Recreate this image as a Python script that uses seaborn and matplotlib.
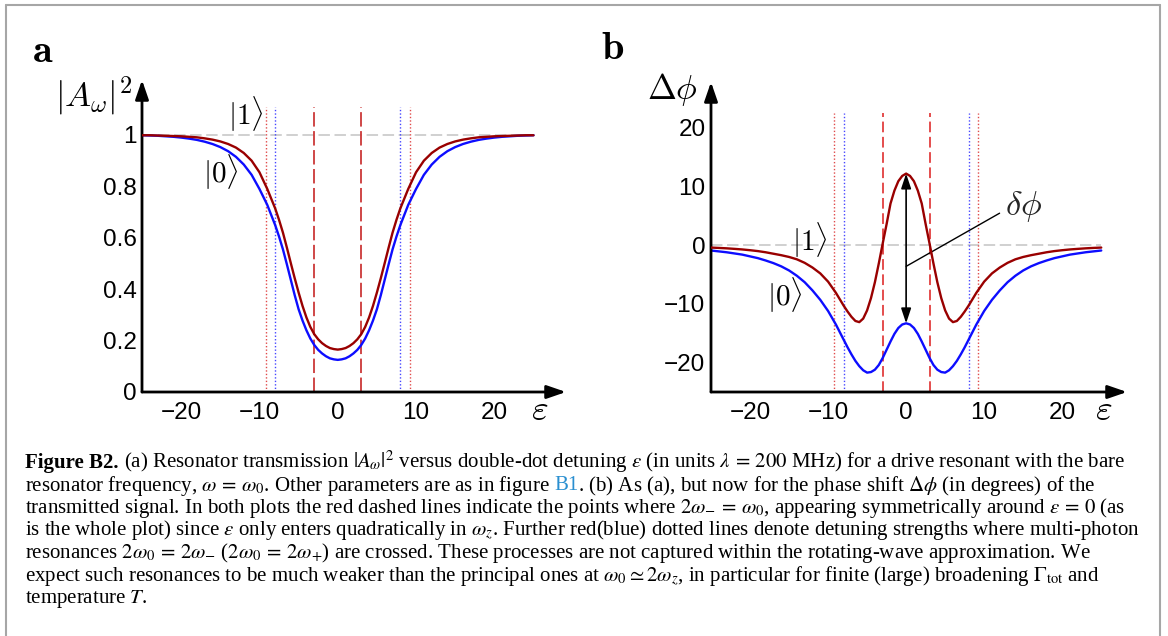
import numpy as np
import pandas as pd
import matplotlib
matplotlib.use("Agg")
import matplotlib.pyplot as plt
import seaborn as sns
from matplotlib.lines import Line2D

# === data ===
eps = [-25, -24, -23, -22, -21, -20, -19, -18, -17, -16, -15, -14, -13, -12, -11, -10, -9,
       -8, -7.5, -7, -6.5, -6, -5.5, -5, -4.5, -4, -3.5, -3, -2.5, -2, -1.5, -1, -0.5,
       0,
       0.5, 1, 1.5, 2, 2.5, 3, 3.5, 4, 4.5, 5, 5.5, 6, 6.5, 7, 7.5, 8,
       9, 10, 11, 12, 13, 14, 15, 16, 17, 18, 19, 20, 21, 22, 23, 24, 25]

# panel a: |A_w|^2 for |0> (blue) and |1> (red)
trans_0 = [0.999, 0.998, 0.997, 0.995, 0.993, 0.990, 0.986, 0.981, 0.974, 0.965, 0.953, 0.937, 0.915, 0.885, 0.845, 0.790, 0.728,
           0.650, 0.605, 0.555, 0.497, 0.437, 0.377, 0.322, 0.278, 0.240, 0.208, 0.183, 0.164, 0.150, 0.139, 0.131, 0.127,
           0.125,
           0.127, 0.131, 0.139, 0.150, 0.164, 0.183, 0.208, 0.240, 0.278, 0.322, 0.377, 0.437, 0.497, 0.555, 0.605, 0.650,
           0.728, 0.790, 0.845, 0.885, 0.915, 0.937, 0.953, 0.965, 0.974, 0.981, 0.986, 0.990, 0.993, 0.995, 0.997, 0.998, 0.999]
trans_1 = [0.999, 0.999, 0.998, 0.997, 0.996, 0.995, 0.993, 0.991, 0.987, 0.982, 0.975, 0.965, 0.951, 0.930, 0.900, 0.855, 0.790,
           0.715, 0.670, 0.620, 0.562, 0.502, 0.443, 0.387, 0.335, 0.290, 0.253, 0.225, 0.205, 0.190, 0.179, 0.171, 0.167,
           0.165,
           0.167, 0.171, 0.179, 0.190, 0.205, 0.225, 0.253, 0.290, 0.335, 0.387, 0.443, 0.502, 0.562, 0.620, 0.670, 0.715,
           0.790, 0.855, 0.900, 0.930, 0.951, 0.965, 0.975, 0.982, 0.987, 0.991, 0.993, 0.995, 0.996, 0.997, 0.998, 0.999, 0.999]

# panel b: phase shift (degrees)
phase_0 = [-0.9, -1.05, -1.2, -1.4, -1.6, -1.9, -2.2, -2.6, -3.05, -3.6, -4.3, -5.2, -6.3, -7.7, -9.3, -11.2, -13.5,
           -16.1, -17.4, -18.6, -19.7, -20.6, -21.3, -21.7, -21.6, -21.2, -20.4, -19.2, -17.8, -16.4, -15.1, -14.1, -13.5,
           -13.3,
           -13.5, -14.1, -15.1, -16.4, -17.8, -19.2, -20.4, -21.2, -21.6, -21.7, -21.3, -20.6, -19.7, -18.6, -17.4, -16.1,
           -13.5, -11.2, -9.3, -7.7, -6.3, -5.2, -4.3, -3.6, -3.05, -2.6, -2.2, -1.9, -1.6, -1.4, -1.2, -1.05, -0.9]
phase_1 = [-0.40, -0.46, -0.53, -0.62, -0.72, -0.85, -1.0, -1.2, -1.45, -1.7, -2.0, -2.4, -3.0, -3.8, -4.8, -6.2, -8.1,
           -10.3, -11.3, -12.2, -12.9, -13.1, -12.5, -11.1, -9.0, -6.3, -3.1, 0.3, 3.6, 7.1, 9.3, 10.9, 11.8,
           12.2,
           11.8, 10.9, 9.3, 7.1, 3.6, 0.3, -3.1, -6.3, -9.0, -11.1, -12.5, -13.1, -12.9, -12.2, -11.3, -10.3,
           -8.1, -6.2, -4.8, -3.8, -3.0, -2.4, -2.0, -1.7, -1.45, -1.2, -1.0, -0.85, -0.72, -0.62, -0.53, -0.46, -0.40]

x_ticks = [-20, -10, 0, 10, 20]
x_tick_labels = ["\u221220", "\u221210", "0", "10", "20"]
a_y_ticks = [0, 0.2, 0.4, 0.6, 0.8, 1]
a_y_tick_labels = ["0", "0.2", "0.4", "0.6", "0.8", "1"]
b_y_ticks = [-20, -10, 0, 10, 20]
b_y_tick_labels = ["\u221220", "\u221210", "0", "10", "20"]

res_eps = [-3.0, 3.0]            # 2w_- = w_0 (red dashed)
multi_red_eps = [-9.2, 9.2]      # 2w_0 = 2w_-  (red dotted)
multi_blue_eps = [-8.0, 8.0]     # 2w_0 = 2w_+  (blue dotted)

caption_lines = [
    r"(a) Resonator transmission $|A_\omega|^2$ versus double-dot detuning $\varepsilon$ (in units $\lambda\,=\,200$ MHz) for a drive resonant with the bare",
    r"resonator frequency, $\omega\,=\,\omega_0$. Other parameters are as in figure",
    r"transmitted signal. In both plots the red dashed lines indicate the points where $2\omega_{-}\,=\,\omega_0$, appearing symmetrically around $\varepsilon\,=\,0$ (as",
    r"is the whole plot) since $\varepsilon$ only enters quadratically in $\omega_z$. Further red(blue) dotted lines denote detuning strengths where multi-photon",
    r"resonances $2\omega_0\,=\,2\omega_{-}$ ($2\omega_0\,=\,2\omega_{+}$) are crossed. These processes are not captured within the rotating-wave approximation. We",
    r"expect such resonances to be much weaker than the principal ones at $\omega_0\simeq 2\omega_z$, in particular for finite (large) broadening $\Gamma_{\rm tot}$ and",
    r"temperature $T$.",
]
line2_tail = r". (b) As (a), but now for the phase shift $\Delta\phi$ (in degrees) of the"

RED = "#990000"
BLUE = "#0d0dff"

sns.set_style("white")
plt.rcParams["font.family"] = ["Liberation Sans", "DejaVu Sans"]

W, H = 1168, 636
fig = plt.figure(figsize=(W / 100, H / 100), dpi=100)


def fx(px):
    return px / W


def fy(py):
    return 1 - py / H


ax_a = fig.add_axes([fx(142), fy(392), (566 - 142) / W, (392 - 80) / H])
ax_b = fig.add_axes([fx(711), fy(392), (1127 - 711) / W, (392 - 82) / H])


def style_axes(ax, xlim, ylim, yticks, ylabels):
    ax.set_xlim(*xlim)
    ax.set_ylim(*ylim)
    for s in ax.spines.values():
        s.set_visible(False)
    ax.set_xticks(x_ticks, x_tick_labels)
    ax.set_yticks(yticks, ylabels)
    ax.tick_params(direction="in", length=4, width=0.9, labelsize=17.5, colors="black")
    ax.tick_params(axis="x", pad=7)
    ax.tick_params(axis="y", pad=4)
    ax.set_xlabel("")
    ax.set_ylabel("")
    arrow = dict(arrowstyle="-|>,head_length=0.58,head_width=0.2", lw=2.0, color="black",
                 shrinkA=0, shrinkB=0, mutation_scale=20)
    ax.annotate("", xy=(1, 0), xytext=(0, 0), xycoords="axes fraction", arrowprops=arrow, annotation_clip=False)
    ax.annotate("", xy=(0, 1), xytext=(0, 0), xycoords="axes fraction", arrowprops=arrow, annotation_clip=False)


math_kw = dict(math_fontfamily="cm", color="black", ha="center", va="center")

# === panel a ===
df_a = pd.DataFrame({"eps": eps, "zero": trans_0, "one": trans_1})
ax_a.hlines(1, eps[0], eps[-1], color="#c4c4c4", lw=1.1, linestyles=(0, (7.5, 3)), zorder=1)
ax_a.vlines(multi_red_eps, 0, 1.11, color="#e04a4a", lw=1.0, linestyles=(0, (1, 1.5)), zorder=1)
ax_a.vlines(multi_blue_eps, 0, 1.11, color="#4646ff", lw=1.0, linestyles=(0, (1, 1.5)), zorder=1)
ax_a.vlines(res_eps, 0, 1.11, color="#cc3838", lw=1.3, linestyles=(0, (8, 2.5)), zorder=1)
sns.lineplot(data=df_a, x="eps", y="zero", color=BLUE, lw=1.7, ax=ax_a, zorder=3)
sns.lineplot(data=df_a, x="eps", y="one", color=RED, lw=1.7, ax=ax_a, zorder=4)
style_axes(ax_a, (-25, 29.15), (0, 1.214), a_y_ticks, a_y_tick_labels)
ax_a.text(-11.8, 1.08, r"$|1\rangle$", fontsize=21, **math_kw)
ax_a.text(-14.9, 0.855, r"$|0\rangle$", fontsize=21, **math_kw)

# === panel b ===
df_b = pd.DataFrame({"eps": eps, "zero": phase_0, "one": phase_1})
ax_b.hlines(0, eps[0], eps[-1], color="#c4c4c4", lw=1.1, linestyles=(0, (7.5, 3)), zorder=1)
ax_b.vlines(multi_red_eps, -25, 22.5, color="#e04a4a", lw=1.0, linestyles=(0, (1, 1.5)), zorder=1)
ax_b.vlines(multi_blue_eps, -25, 22.5, color="#4646ff", lw=1.0, linestyles=(0, (1, 1.5)), zorder=1)
ax_b.vlines(res_eps, -25, 22.5, color="#dd1c1c", lw=1.1, linestyles=(0, (7, 3)), zorder=1)
sns.lineplot(data=df_b, x="eps", y="zero", color=BLUE, lw=1.7, ax=ax_b, zorder=3)
sns.lineplot(data=df_b, x="eps", y="one", color=RED, lw=1.7, ax=ax_b, zorder=4)
style_axes(ax_b, (-25, 28.3), (-25, 27.8), b_y_ticks, b_y_tick_labels)
ax_b.text(-12.4, 0.9, r"$|1\rangle$", fontsize=21, **math_kw)
ax_b.text(-15.6, -8.5, r"$|0\rangle$", fontsize=21, **math_kw)

i0 = eps.index(0)
ax_b.annotate("", xy=(0, phase_1[i0]), xytext=(0, phase_0[i0]),
              arrowprops=dict(arrowstyle="<|-|>,head_length=0.45,head_width=0.15", lw=1.2, color="black",
                              shrinkA=0, shrinkB=0, mutation_scale=20), zorder=5)
ax_b.annotate(r"$\delta\phi$", xy=(0, -3.6), xytext=(15.1, 6.6), fontsize=25, math_fontfamily="cm",
              ha="center", va="center",
              arrowprops=dict(arrowstyle="-", lw=1.0, color="black", shrinkA=2, shrinkB=0, relpos=(0, 0.4)))

# === axis labels and panel letters ===
fig.text(fx(94), fy(96), r"$|A_\omega|^2$", fontsize=25, **math_kw)
fig.text(fx(672), fy(90), r"$\Delta\phi$", fontsize=25, **math_kw)
fig.text(fx(540), fy(410), r"$\varepsilon$", fontsize=26, **math_kw)
fig.text(fx(1104), fy(411), r"$\varepsilon$", fontsize=26, **math_kw)
fig.text(fx(43), fy(51), r"$\mathbf{a}$", fontsize=29, **math_kw)
fig.text(fx(613), fy(48), r"$\mathbf{b}$", fontsize=29, **math_kw)

# === border ===
for xs, ys in [([6, 6], [640, 5]), ([6, 1160], [5, 5]), ([1160, 1160], [5, 640])]:
    fig.add_artist(Line2D([fx(v) for v in xs], [fy(v) for v in ys], color="#a6a6a6", lw=1.5))

# === caption ===
renderer = fig.canvas.get_renderer()
cap_kw = dict(fontsize=15.0, family=["Liberation Serif", "DejaVu Serif"], math_fontfamily="stix",
              va="baseline", ha="left", color="black")


def put(x_px, y_px, s, **kw):
    t = fig.text(fx(x_px), fy(y_px), s, **{**cap_kw, **kw})
    return x_px + t.get_window_extent(renderer).width


baselines = [468, 490.5, 513, 535.5, 558, 580.5, 603]
x = put(25, baselines[0], "Figure B2.", weight="bold")
put(x + 5, baselines[0], caption_lines[0])
x = put(25, baselines[1], caption_lines[1])
x = put(x + 4, baselines[1], "B1", color="#2a8fd0")
put(x, baselines[1], line2_tail)
for line, yb in zip(caption_lines[2:], baselines[2:]):
    put(25, yb, line)

fig.savefig("out.png", dpi=100)
